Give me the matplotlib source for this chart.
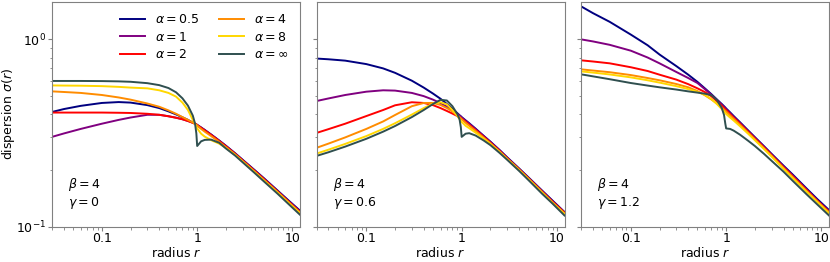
import matplotlib
matplotlib.use("Agg")
import matplotlib.pyplot as plt

radius = [0.03, 0.04, 0.06, 0.1, 0.15, 0.2, 0.3, 0.4, 0.5, 0.6, 0.7, 0.8, 0.9, 0.95,
          0.98, 1.0, 1.1, 1.2, 1.4, 1.7, 2, 2.5, 3, 4, 5, 7, 9, 12]

alpha_labels = [r"$\alpha=0.5$", r"$\alpha=1$", r"$\alpha=2$",
                r"$\alpha=4$", r"$\alpha=8$", r"$\alpha=\infty$"]
alpha_colors = ["navy", "purple", "red", "darkorange", "gold", "darkslategray"]
gamma_values = ["0", "0.6", "1.2"]

# dispersion, gamma = 0 (rows: alpha 0.5, 1, 2, 4, 8, inf)
sigma_gamma0 = [
    [0.410, 0.425, 0.442, 0.458, 0.463, 0.460, 0.446, 0.430, 0.413, 0.398, 0.384, 0.372, 0.360, 0.355,
     0.352, 0.350, 0.339, 0.329, 0.311, 0.289, 0.271, 0.247, 0.228, 0.201, 0.182, 0.156, 0.139, 0.122],
    [0.302, 0.315, 0.333, 0.355, 0.372, 0.383, 0.396, 0.396, 0.389, 0.382, 0.375, 0.367, 0.359, 0.355,
     0.352, 0.349, 0.338, 0.328, 0.310, 0.288, 0.270, 0.246, 0.227, 0.200, 0.181, 0.155, 0.138, 0.121],
    [0.407, 0.407, 0.407, 0.407, 0.406, 0.405, 0.401, 0.396, 0.389, 0.382, 0.375, 0.367, 0.359, 0.355,
     0.352, 0.349, 0.337, 0.327, 0.309, 0.287, 0.269, 0.245, 0.226, 0.199, 0.180, 0.154, 0.137, 0.120],
    [0.528, 0.524, 0.518, 0.505, 0.490, 0.477, 0.455, 0.437, 0.418, 0.401, 0.385, 0.372, 0.360, 0.354,
     0.350, 0.347, 0.333, 0.322, 0.305, 0.284, 0.266, 0.243, 0.224, 0.197, 0.178, 0.153, 0.136, 0.119],
    [0.568, 0.567, 0.566, 0.563, 0.558, 0.553, 0.548, 0.535, 0.518, 0.495, 0.460, 0.420, 0.372, 0.355,
     0.343, 0.335, 0.314, 0.303, 0.290, 0.278, 0.264, 0.242, 0.223, 0.196, 0.177, 0.152, 0.135, 0.118],
    [0.600, 0.600, 0.600, 0.599, 0.597, 0.594, 0.584, 0.570, 0.550, 0.522, 0.485, 0.443, 0.392, 0.355,
     0.315, 0.270, 0.286, 0.291, 0.292, 0.281, 0.262, 0.240, 0.221, 0.194, 0.175, 0.150, 0.133, 0.116],
]

# dispersion, gamma = 0.6
sigma_gamma06 = [
    [0.790, 0.783, 0.770, 0.738, 0.700, 0.663, 0.602, 0.553, 0.514, 0.482, 0.452, 0.426, 0.404, 0.394,
     0.389, 0.385, 0.370, 0.357, 0.334, 0.306, 0.285, 0.257, 0.235, 0.205, 0.184, 0.156, 0.138, 0.120],
    [0.469, 0.484, 0.505, 0.526, 0.535, 0.533, 0.518, 0.498, 0.477, 0.457, 0.437, 0.418, 0.400, 0.392,
     0.387, 0.383, 0.368, 0.355, 0.332, 0.305, 0.284, 0.256, 0.234, 0.204, 0.183, 0.155, 0.137, 0.1195],
    [0.317, 0.332, 0.355, 0.390, 0.420, 0.445, 0.462, 0.458, 0.446, 0.430, 0.415, 0.402, 0.390, 0.384,
     0.380, 0.377, 0.363, 0.350, 0.328, 0.302, 0.281, 0.254, 0.232, 0.203, 0.182, 0.154, 0.136, 0.119],
    [0.264, 0.278, 0.300, 0.333, 0.365, 0.395, 0.440, 0.458, 0.458, 0.447, 0.430, 0.412, 0.394, 0.385,
     0.379, 0.375, 0.359, 0.346, 0.325, 0.299, 0.279, 0.252, 0.231, 0.202, 0.181, 0.153, 0.135, 0.118],
    [0.246, 0.258, 0.277, 0.305, 0.333, 0.357, 0.397, 0.430, 0.455, 0.462, 0.450, 0.420, 0.390, 0.375,
     0.368, 0.363, 0.346, 0.336, 0.318, 0.296, 0.277, 0.251, 0.230, 0.201, 0.180, 0.152, 0.134, 0.117],
    [0.239, 0.250, 0.268, 0.295, 0.322, 0.345, 0.385, 0.420, 0.452, 0.476, 0.472, 0.440, 0.400, 0.375,
     0.340, 0.302, 0.314, 0.316, 0.307, 0.289, 0.273, 0.248, 0.228, 0.199, 0.178, 0.150, 0.133, 0.115],
]

# dispersion, gamma = 1.2
sigma_gamma12 = [
    [1.500, 1.380, 1.240, 1.060, 0.930, 0.830, 0.720, 0.648, 0.593, 0.547, 0.510, 0.478, 0.452, 0.440,
     0.433, 0.428, 0.408, 0.390, 0.361, 0.327, 0.301, 0.269, 0.245, 0.212, 0.190, 0.160, 0.141, 0.123],
    [1.000, 0.975, 0.935, 0.870, 0.800, 0.745, 0.670, 0.622, 0.585, 0.542, 0.506, 0.475, 0.448, 0.436,
     0.429, 0.424, 0.404, 0.386, 0.358, 0.324, 0.299, 0.267, 0.243, 0.210, 0.188, 0.158, 0.139, 0.1215],
    [0.773, 0.762, 0.745, 0.710, 0.678, 0.648, 0.610, 0.577, 0.548, 0.523, 0.497, 0.468, 0.442, 0.430,
     0.423, 0.419, 0.399, 0.382, 0.354, 0.321, 0.296, 0.265, 0.241, 0.208, 0.186, 0.157, 0.138, 0.1205],
    [0.692, 0.682, 0.668, 0.645, 0.622, 0.605, 0.578, 0.555, 0.530, 0.503, 0.478, 0.455, 0.433, 0.422,
     0.416, 0.412, 0.393, 0.377, 0.350, 0.318, 0.293, 0.262, 0.239, 0.206, 0.184, 0.155, 0.137, 0.1195],
    [0.675, 0.665, 0.650, 0.627, 0.605, 0.588, 0.563, 0.543, 0.525, 0.505, 0.480, 0.452, 0.425, 0.413,
     0.405, 0.400, 0.383, 0.369, 0.344, 0.314, 0.290, 0.260, 0.237, 0.204, 0.182, 0.154, 0.136, 0.118],
    [0.651, 0.635, 0.613, 0.585, 0.567, 0.555, 0.540, 0.528, 0.520, 0.513, 0.504, 0.475, 0.430, 0.395,
     0.355, 0.335, 0.333, 0.326, 0.310, 0.288, 0.270, 0.245, 0.225, 0.197, 0.176, 0.149, 0.132, 0.115],
]

panels = [sigma_gamma0, sigma_gamma06, sigma_gamma12]


def main() -> None:
    plt.rcParams["font.size"] = 9
    plt.rcParams["axes.edgecolor"] = "0.5"
    plt.rcParams["xtick.color"] = "0.5"
    plt.rcParams["ytick.color"] = "0.5"
    plt.rcParams["xtick.labelcolor"] = "black"
    plt.rcParams["ytick.labelcolor"] = "black"

    fig = plt.figure(figsize=(8.3, 2.62), dpi=100)
    axes = fig.subplots(1, 3, sharey=True)
    fig.subplots_adjust(left=0.0627, right=0.9988, bottom=0.134, top=0.992, wspace=0.0665)

    for ax, sigma, gamma in zip(axes, panels, gamma_values):
        for values, label, color in zip(sigma, alpha_labels, alpha_colors):
            ax.plot(radius, values, color=color, lw=1.4, label=label)
        ax.set_xscale("log")
        ax.set_yscale("log")
        ax.set_xlim(0.03, 12)
        ax.set_ylim(0.1, 1.58)
        ax.set_xticks([0.1, 1, 10])
        ax.set_xticklabels(["0.1", "1", "10"])
        ax.tick_params(which="major", length=3, pad=1)
        ax.tick_params(which="minor", length=1.8)
        ax.set_xlabel(r"radius $r$", labelpad=0.5)
        ax.text(0.065, 0.07, r"$\beta=4$" + "\n" + r"$\gamma=%s$" % gamma,
                transform=ax.transAxes, ha="left", va="bottom")

    axes[0].set_ylabel(r"dispersion $\sigma(r)$")
    axes[0].yaxis.set_label_coords(-0.142, 0.5)
    axes[0].legend(loc="upper right", ncol=2, frameon=False, fontsize=9,
                   handlelength=2.0, labelspacing=0.35, columnspacing=1.6)

    fig.savefig("out.png", dpi=100)


if __name__ == "__main__":
    main()
